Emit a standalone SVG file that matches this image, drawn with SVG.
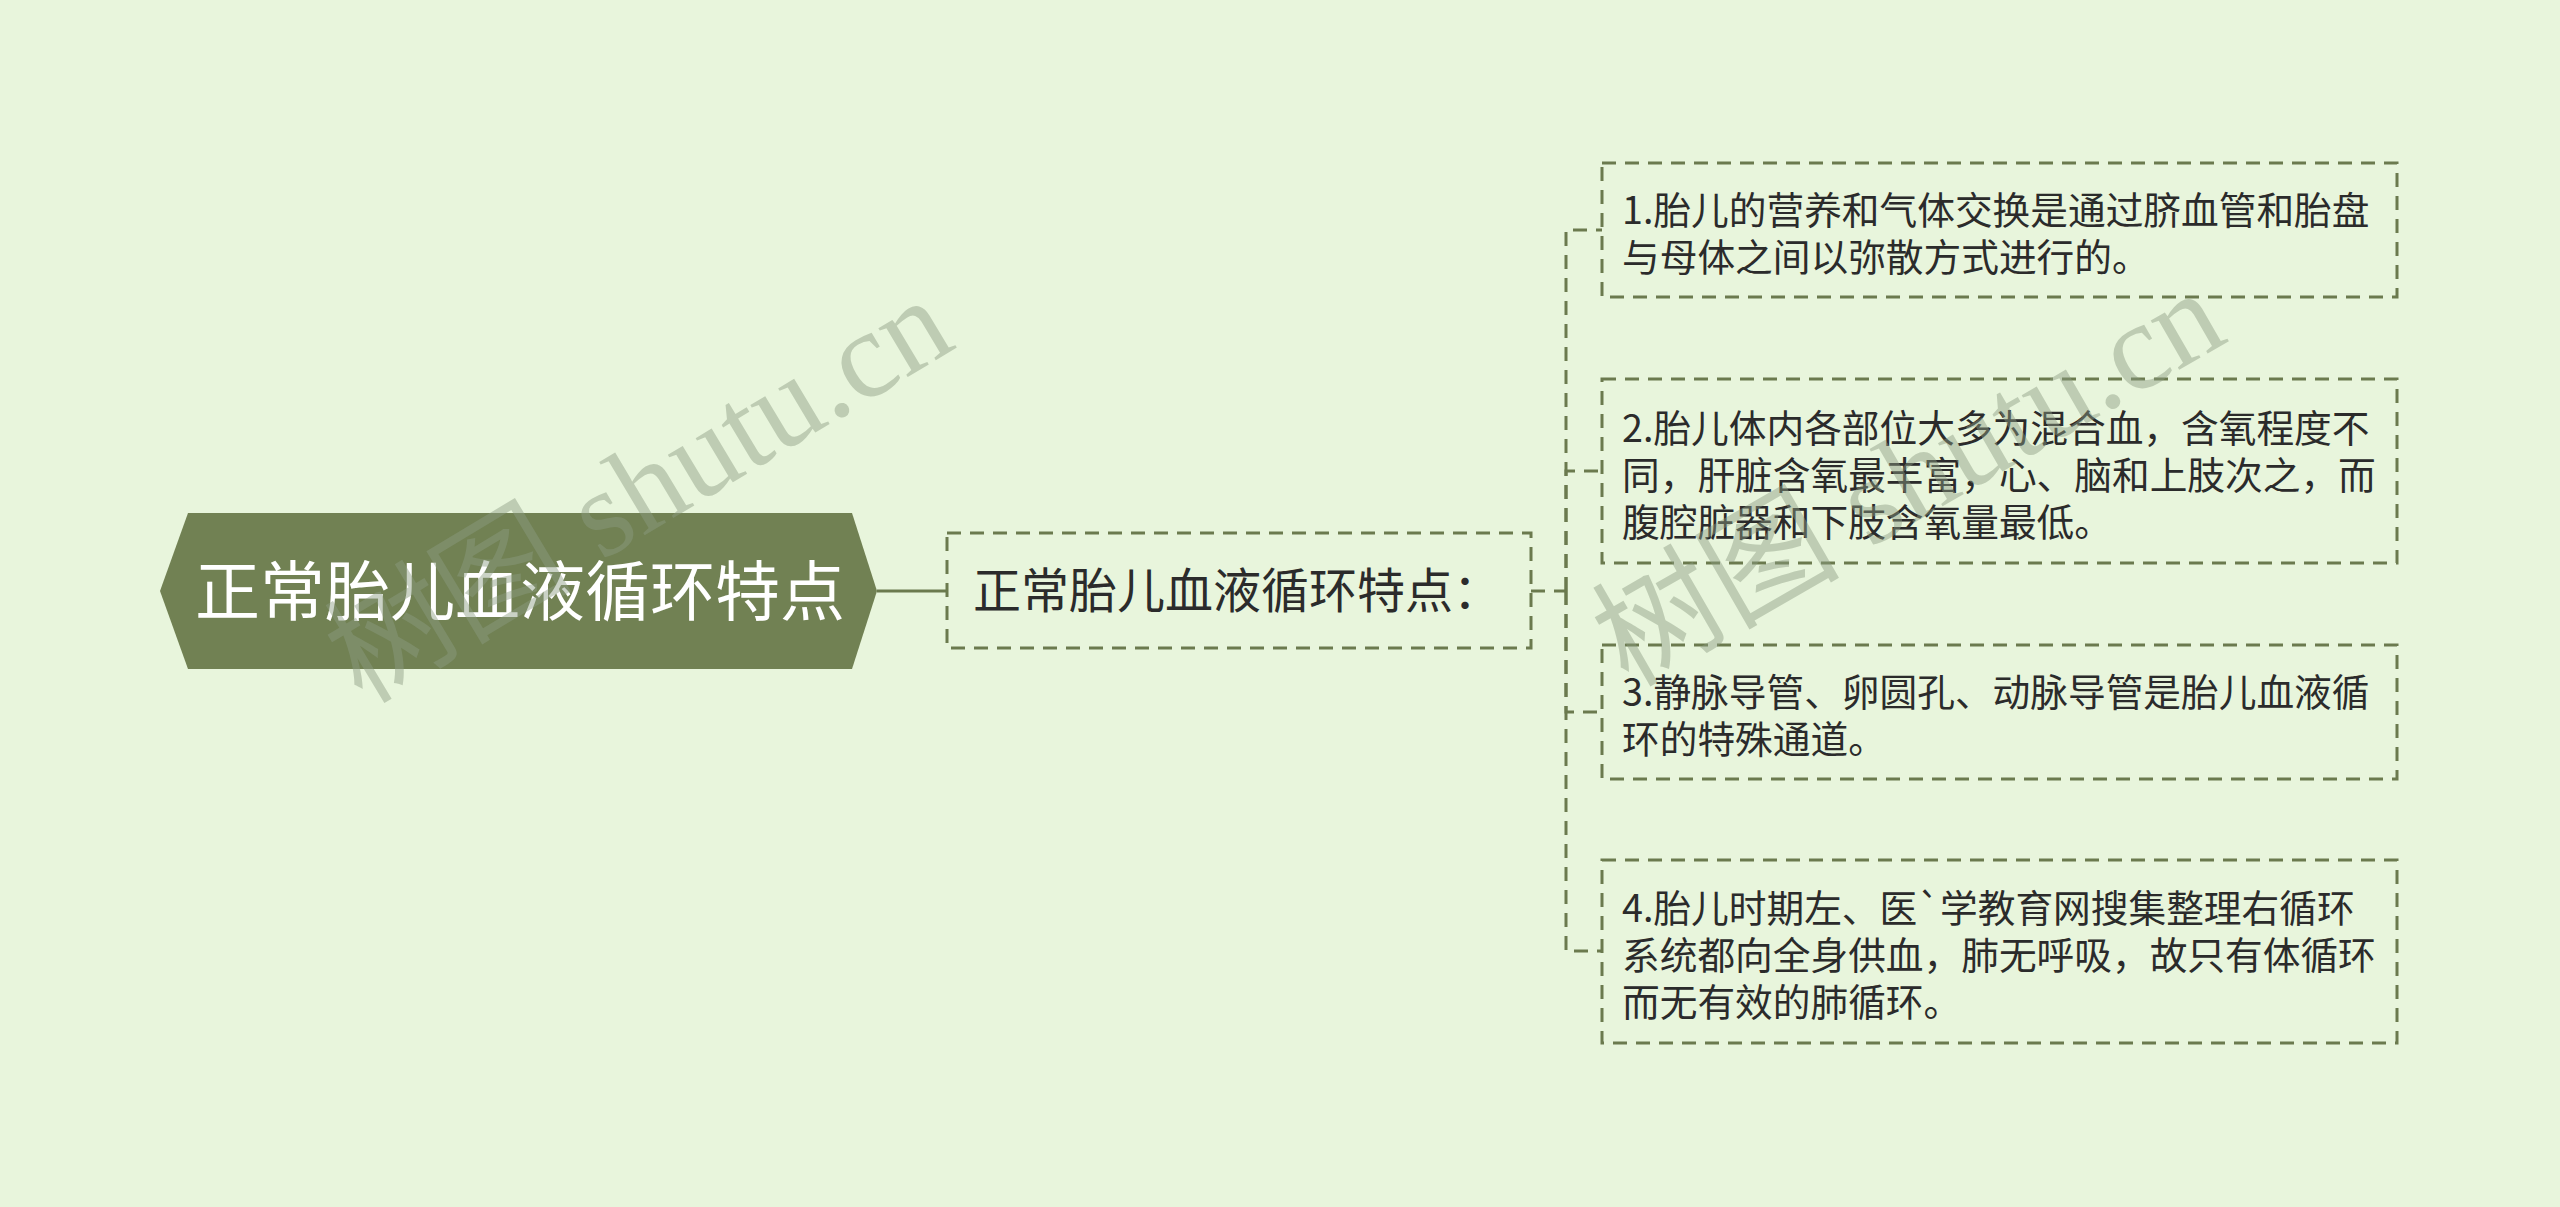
<svg xmlns="http://www.w3.org/2000/svg" width="2560" height="1207" viewBox="0 0 2560 1207">
<style>
.box{fill:none;stroke:#6b7a4e;stroke-width:3;stroke-dasharray:14 9}
.con{fill:none;stroke:#6b7a4e;stroke-width:3;stroke-dasharray:14 9}
.t{font-family:"Noto Sans CJK SC","Noto Sans",sans-serif;fill:#2b2b2b}
.s{font-size:37.7px}
.wm{font-family:"Liberation Serif","Noto Sans CJK SC",serif;font-size:124px;fill:#8c9c82;opacity:0.45}
</style>
<rect width="2560" height="1207" fill="#e8f5dc"/>
<g id="connectors">
<line x1="877" y1="591" x2="947" y2="591" stroke="#6b7a4e" stroke-width="3"/>
<path class="con" d="M1531,591 H1566"/>
<path class="con" d="M1566,591 V230 H1602"/>
<path class="con" d="M1566,591 V471 H1602"/>
<path class="con" d="M1566,591 V712 H1602"/>
<path class="con" d="M1566,591 V951 H1602"/>
</g>
<g id="root">
<polygon points="160,591 188,513 852,513 877,591 852,669 188,669" fill="#718153"/>
<text class="t" x="520" y="615" font-size="65" text-anchor="middle" style="fill:#ffffff">正常胎儿血液循环特点</text>
</g>
<g id="mid">
<rect class="box" x="947" y="533" width="584" height="115"/>
<text class="t" x="973" y="608" font-size="48">正常胎儿血液循环特点：</text>
</g>
<g id="n1">
<rect class="box" x="1602" y="163" width="795" height="134"/>
<text class="t s" x="1622" y="224">1.胎儿的营养和气体交换是通过脐血管和胎盘</text>
<text class="t s" x="1622" y="271">与母体之间以弥散方式进行的。</text>
</g>
<g id="n2">
<rect class="box" x="1602" y="379" width="795" height="184"/>
<text class="t s" x="1622" y="442">2.胎儿体内各部位大多为混合血，含氧程度不</text>
<text class="t s" x="1622" y="489">同，肝脏含氧最丰富，心、脑和上肢次之，而</text>
<text class="t s" x="1622" y="536">腹腔脏器和下肢含氧量最低。</text>
</g>
<g id="n3">
<rect class="box" x="1602" y="645" width="795" height="134"/>
<text class="t s" x="1622" y="706">3.静脉导管、卵圆孔、动脉导管是胎儿血液循</text>
<text class="t s" x="1622" y="753">环的特殊通道。</text>
</g>
<g id="n4">
<rect class="box" x="1602" y="860" width="795" height="183"/>
<text class="t s" x="1622" y="922">4.胎儿时期左、医`学教育网搜集整理右循环</text>
<text class="t s" x="1622" y="969">系统都向全身供血，肺无呼吸，故只有体循环</text>
<text class="t s" x="1622" y="1016">而无有效的肺循环。</text>
</g>
<g id="watermarks">
<text class="wm" transform="translate(362,705) rotate(-31)">树图 shutu.cn</text>
<text class="wm" transform="translate(1628,688) rotate(-30)">树图 shutu.cn</text>
</g>
</svg>
